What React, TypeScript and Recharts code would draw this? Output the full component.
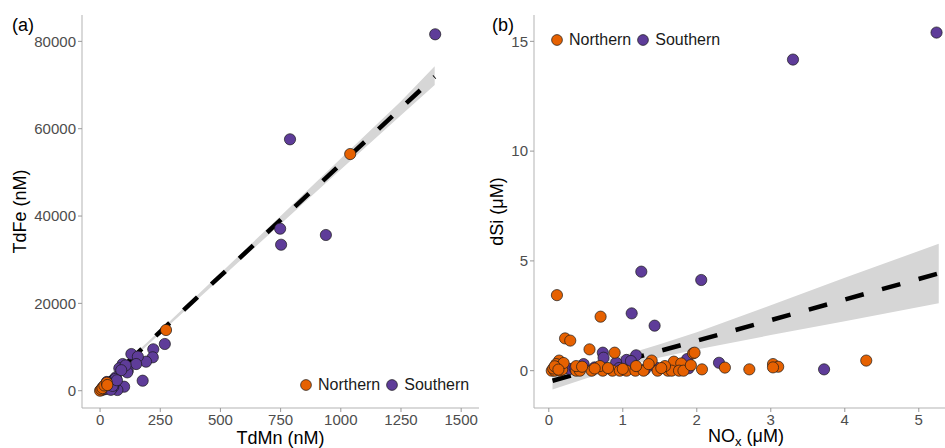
import React from 'react';
import {
  ComposedChart,
  Scatter,
  Line,
  Area,
  XAxis,
  YAxis,
  Legend,
} from 'recharts';

const ORANGE = '#E66101';
const PURPLE = '#5E3C99';
const BORDER = '#B3B3B3';
const TICK_TEXT = '#4D4D4D';
const FONT = '"Liberation Sans", Arial, sans-serif';

// ---- panel (a): TdMn vs TdFe (nM)
const mnNorthern = [0, 5, 10, 18, 28, 30, 274, 1039];
const feNorthern = [0, 300, 600, 1200, 1830, 1300, 13900, 54200];

const mnSouthern = [
  1392, 789, 748, 752, 938, 269, 221, 219, 191, 130, 157, 150, 177, 94, 80, 115, 113,
  66, 64, 100, 72, 42, 55, 28, 106, 88, 60, 48, 35, 20, 15, 12, 8, 25, 38, 45, 52, 70,
];
const feSouthern = [
  81620, 57570, 37100, 33430, 35660, 10700, 9480, 7650, 6650, 8400, 7800, 6110, 2290,
  6110, 5130, 4580, 4200, 3070, 2700, 916, 160, 1300, 900, 2000, 5800, 4700, 1800,
  1500, 1000, 600, 300, 800, 200, 400, 700, 200, 1100, 2400,
];

// fitted line and confidence band (a)
const fitMnX = [0, 250, 500, 750, 1000, 1250, 1390];
const fitFe = [700, 13500, 26300, 39100, 51900, 64700, 71900];
const fitFeLow = [300, 13150, 25700, 38200, 50650, 63100, 70000];
const fitFeHigh = [1100, 13850, 26900, 40000, 53150, 66300, 74300];

// ---- panel (b): NOx vs dSi (µM)
const noxNorthern = [
  0.11, 0.7, 0.22, 0.29, 0.55, 0.89, 1.95, 1.97, 1.39, 1.69, 1.79, 4.29, 3.03, 3.1, 3.03,
  2.71, 2.38, 2.07, 0.14, 0.15, 0.04, 0.08, 0.15, 0.37, 0.42, 0.58, 0.73, 0.86, 0.96, 1.05,
  1.17, 1.28, 1.47, 1.61, 1.66, 1.76, 1.82, 0.37, 0.69, 1.18, 1.57, 0.06, 0.1, 0.12, 0.18,
  0.2, 0.08, 0.13, 0.45, 0.62, 0.8, 1.0, 1.35, 1.52, 1.92,
];
const dsiNorthern = [
  3.44, 2.46, 1.47, 1.37, 0.97, 0.82, 0.79, 0.82, 0.46, 0.41, 0.33, 0.46, 0.3, 0.18, 0.15,
  0.06, 0.14, 0.06, 0.46, 0.26, 0.0, 0.0, 0.0, 0.0, 0.0, 0.0, 0.0, 0.0, 0.0, 0.0, 0.0, 0.0,
  0.0, 0.0, 0.0, 0.0, 0.0, 0.21, 0.21, 0.21, 0.21, 0.1, 0.3, 0.15, 0.05, 0.35, 0.2, 0.05,
  0.18, 0.1, 0.12, 0.08, 0.3, 0.12, 0.25,
];

const noxSouthern = [
  5.24, 3.3, 1.25, 2.06, 1.12, 1.43, 0.73, 0.74, 1.18, 1.05, 1.11, 0.91, 0.47, 1.87, 1.89,
  2.3, 3.72, 0.28, 0.62, 1.45, 0.35, 0.95, 1.3,
];
const dsiSouthern = [
  15.4, 14.17, 4.51, 4.13, 2.61, 2.05, 0.82, 0.59, 0.7, 0.49, 0.44, 0.36, 0.3, 0.53, 0.11,
  0.36, 0.06, 0.08, 0.15, 0.14, 0.1, 0.12, 0.05,
];

// fitted line and confidence band (b)
const fitNoxX = [0.05, 0.5, 1, 1.5, 2, 3, 4, 5.27];
const fitDsi = [-0.46, -0.04, 0.43, 0.9, 1.36, 2.3, 3.24, 4.43];
const fitDsiLow = [-0.86, -0.36, 0.17, 0.6, 0.97, 1.62, 2.25, 3.07];
const fitDsiHigh = [-0.06, 0.28, 0.69, 1.2, 1.75, 2.98, 4.23, 5.78];

const xTicksA = [0, 250, 500, 750, 1000, 1250, 1500];
const yTicksA = [0, 20000, 40000, 60000, 80000];
const xTicksB = [0, 1, 2, 3, 4, 5];
const yTicksB = [0, 5, 10, 15];

const toPoints = (xs: number[], ys: number[]) => xs.map((x, i) => ({ x, y: ys[i] }));
const toFit = (xs: number[], mid: number[], lo: number[], hi: number[]) =>
  xs.map((x, i) => ({ x, y: mid[i], band: [lo[i], hi[i]] }));

const Dot = (color: string) => (props: any) => {
  if (props.cx == null || props.cy == null) return <g />;
  return <circle cx={props.cx} cy={props.cy} r={5.6} fill={color} stroke="#1a1a1a" strokeWidth={0.7} />;
};

const LegendBox = () => (
  <div style={{ display: 'flex', alignItems: 'center', fontFamily: FONT, fontSize: 16, color: '#1a1a1a', whiteSpace: 'nowrap' }}>
    {[
      { name: 'Northern', color: ORANGE },
      { name: 'Southern', color: PURPLE },
    ].map((d) => (
      <span key={d.name} style={{ display: 'inline-flex', alignItems: 'center', marginRight: 6 }}>
        <svg width={12} height={12} style={{ marginRight: 6 }}>
          <circle cx={6} cy={6} r={5.4} fill={d.color} stroke="#1a1a1a" strokeWidth={0.7} />
        </svg>
        {d.name}
      </span>
    ))}
  </div>
);

const tickStyle = { fill: TICK_TEXT, fontSize: 15, fontFamily: FONT };

const XTitle = ({ viewBox, text, sub }: any) => {
  const cx = viewBox.x + viewBox.width / 2;
  const y = viewBox.y + (sub ? 34 : 36);
  return (
    <text x={cx} y={y} textAnchor="middle" fontSize={18} fontFamily={FONT} fill="#000">
      {sub ? (
        <>
          <tspan>NO</tspan>
          <tspan fontSize={13} dy={4}>x</tspan>
          <tspan dy={-4}> (μM)</tspan>
        </>
      ) : (
        text
      )}
    </text>
  );
};

const YTitle = ({ x, y, text }: any) => (
  <text x={x} y={y} textAnchor="middle" fontSize={18} fontFamily={FONT} fill="#000" transform={`rotate(-90 ${x} ${y})`}>
    {text}
  </text>
);

interface PanelProps {
  left: number;
  width: number;
  yAxisWidth: number;
  xDomain: [number, number];
  yDomain: [number, number];
  xTicks: number[];
  yTicks: number[];
  north: { x: number; y: number }[];
  south: { x: number; y: number }[];
  fit: { x: number; y: number; band: number[] }[];
  tag: string;
  xTitle: string;
  yTitle: string;
  subX?: boolean;
  yTitleX: number;
  legendPos: { left: number; top: number };
}

const Panel = (p: PanelProps) => (
  <div style={{ position: 'absolute', left: p.left, top: 0 }}>
    <ComposedChart width={p.width} height={448} margin={{ top: 15, right: 1, bottom: 0, left: 0 }}>
      <XAxis
        type="number"
        dataKey="x"
        domain={p.xDomain}
        ticks={p.xTicks}
        allowDataOverflow
        height={40}
        tick={tickStyle}
        tickSize={4}
        tickMargin={2}
        stroke={BORDER}
        tickLine={{ stroke: '#999' }}
        label={<XTitle text={p.xTitle} sub={p.subX} />}
      />
      <XAxis xAxisId="top" type="number" orientation="top" domain={p.xDomain} height={0} tick={false} tickLine={false} stroke={BORDER} />
      <YAxis
        type="number"
        dataKey="y"
        domain={p.yDomain}
        ticks={p.yTicks}
        allowDataOverflow
        width={p.yAxisWidth}
        tick={tickStyle}
        tickSize={4}
        tickMargin={2}
        stroke={BORDER}
        tickLine={{ stroke: '#999' }}
      />
      <YAxis yAxisId="right" type="number" orientation="right" domain={p.yDomain} width={0} tick={false} tickLine={false} stroke={BORDER} />
      <Area data={p.fit} dataKey="band" type="linear" stroke="none" fill="#D6D6D6" fillOpacity={1} isAnimationActive={false} />
      <Line data={p.fit} dataKey="y" type="linear" stroke="#000" strokeWidth={4.5} strokeDasharray="19 19" dot={false} activeDot={false} isAnimationActive={false} />
      <Scatter name="Southern" data={p.south} shape={Dot(PURPLE)} isAnimationActive={false} />
      <Scatter name="Northern" data={p.north} shape={Dot(ORANGE)} isAnimationActive={false} />
      <Legend
        layout="horizontal"
        verticalAlign="middle"
        align="center"
        content={() => <LegendBox />}
        wrapperStyle={{ left: p.legendPos.left, top: p.legendPos.top, width: 'auto', height: 'auto' }}
      />
    </ComposedChart>
    <svg style={{ position: 'absolute', left: 0, top: 0, pointerEvents: 'none' }} width={p.width} height={448}>
      <text x={12} y={31} fontSize={18} fontFamily={FONT} fill="#000">
        {p.tag}
      </text>
      <YTitle x={p.yTitleX} y={211.5} text={p.yTitle} />
    </svg>
  </div>
);

export default function App() {
  return (
    <div style={{ position: 'absolute', left: 0, top: 0, width: 945, height: 448, overflow: 'hidden', background: '#fff' }}>
      <Panel
        left={0}
        width={480}
        yAxisWidth={82}
        xDomain={[-75, 1574]}
        yDomain={[-3960, 86040]}
        xTicks={xTicksA}
        yTicks={yTicksA}
        north={toPoints(mnNorthern, feNorthern)}
        south={toPoints(mnSouthern, feSouthern)}
        fit={toFit(fitMnX, fitFe, fitFeLow, fitFeHigh)}
        tag="(a)"
        xTitle="TdMn (nM)"
        yTitle="TdFe (nM)"
        yTitleX={26}
        legendPos={{ left: 300, top: 376 }}
      />
      <Panel
        left={480}
        width={479}
        yAxisWidth={54}
        xDomain={[-0.2, 5.53]}
        yDomain={[-1.7, 16.2]}
        xTicks={xTicksB}
        yTicks={yTicksB}
        north={toPoints(noxNorthern, dsiNorthern)}
        south={toPoints(noxSouthern, dsiSouthern)}
        fit={toFit(fitNoxX, fitDsi, fitDsiLow, fitDsiHigh)}
        tag="(b)"
        xTitle="NOx (μM)"
        yTitle="dSi (μM)"
        subX
        yTitleX={23}
        legendPos={{ left: 71, top: 31 }}
      />
    </div>
  );
}
